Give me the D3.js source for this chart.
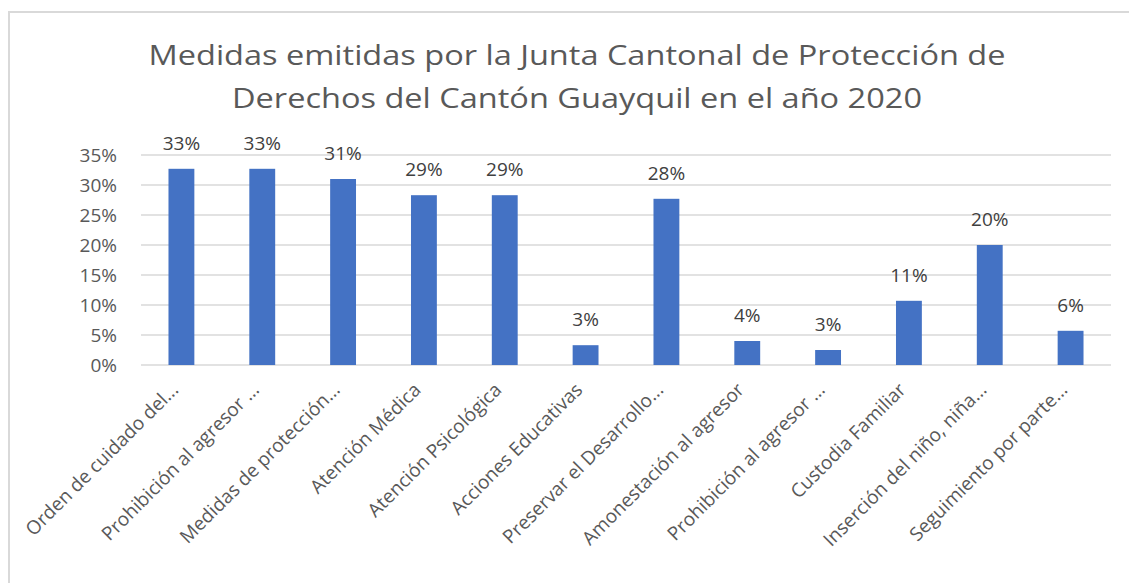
<!DOCTYPE html>
<html><head><meta charset="utf-8">
<script src="https://cdn.jsdelivr.net/npm/d3@7"></script>
<style>body{margin:0;background:#fff}svg{display:block}</style>
</head><body><svg id="c" width="1129" height="583"></svg>
<script>
const categories = ["Orden de cuidado del...","Prohibición al agresor ...","Medidas de protección...","Atención Médica","Atención Psicológica","Acciones Educativas","Preservar el Desarrollo...","Amonestación al agresor","Prohibición al agresor ...","Custodia Familiar","Inserción del niño, niña...","Seguimiento por parte..."];
const values = [0.327,0.327,0.310,0.283,0.283,0.033,0.277,0.040,0.025,0.107,0.200,0.057];
const labels = ["33%","33%","31%","29%","29%","3%","28%","4%","3%","11%","20%","6%"];
const yTicks = [0,0.05,0.10,0.15,0.20,0.25,0.30,0.35];
const titleLines = ["Medidas emitidas por la Junta Cantonal de Protección de","Derechos del Cantón Guayquil en el año 2020"];

const svg = d3.select("#c");
const font = "'Open Sans', sans-serif";
svg.append("rect").attr("x",9).attr("y",12).attr("width",1140).attr("height",600)
  .attr("fill","#fff").attr("stroke","#d9d9d9").attr("stroke-width",2);

const L=141,R=1111,T=155,B=365;
const idx = categories.map((c,i)=>i);
const x = d3.scaleBand().domain(idx).range([L,R]).paddingInner(0.68).paddingOuter(0.34);
const y = d3.scaleLinear().domain([0,0.35]).range([B,T]);

// title
const titleW = [857, 690];
titleLines.forEach((t,i)=>{
  svg.append("text").attr("x",577).attr("y",65+i*43).attr("text-anchor","middle")
    .attr("font-family",font).attr("font-size",28).attr("fill","#595959")
    .attr("textLength",titleW[i]).attr("lengthAdjust","spacingAndGlyphs").text(t);
});

// grid
svg.append("g").selectAll("line").data(yTicks).join("line")
  .attr("x1",L).attr("x2",R).attr("y1",d=>y(d)).attr("y2",d=>y(d))
  .attr("stroke","#d9d9d9").attr("stroke-width",1.3);

// y axis
const ya = svg.append("g").attr("transform",`translate(${L},0)`)
  .call(d3.axisLeft(y).tickValues(yTicks).tickFormat(d3.format(".0%")).tickSize(0).tickPadding(24));
ya.select(".domain").remove();
ya.selectAll("text").attr("font-family",font).attr("font-size",19).attr("fill","#595959");

// bars
svg.append("g").selectAll("rect").data(values).join("rect")
  .attr("x",(d,i)=>x(i)).attr("width",x.bandwidth())
  .attr("y",d=>y(d)).attr("height",d=>B-y(d)).attr("fill","#4472c4");

// data labels
svg.append("g").selectAll("text").data(values).join("text")
  .attr("x",(d,i)=>x(i)+x.bandwidth()/2).attr("y",d=>y(d)-19)
  .attr("text-anchor","middle").attr("font-family",font).attr("font-size",19).attr("fill","#404040")
  .text((d,i)=>labels[i]);

// x axis labels
const xa = svg.append("g").attr("transform",`translate(0,${B})`)
  .call(d3.axisBottom(x).tickFormat(i=>categories[i]).tickSize(0).tickPadding(0));
xa.select(".domain").remove();
xa.selectAll("text").attr("font-family",font).attr("font-size",19).attr("fill","#595959")
  .attr("text-anchor","end").attr("dy",0)
  .attr("transform","translate(-2,26) rotate(-45)");
</script></body></html>
